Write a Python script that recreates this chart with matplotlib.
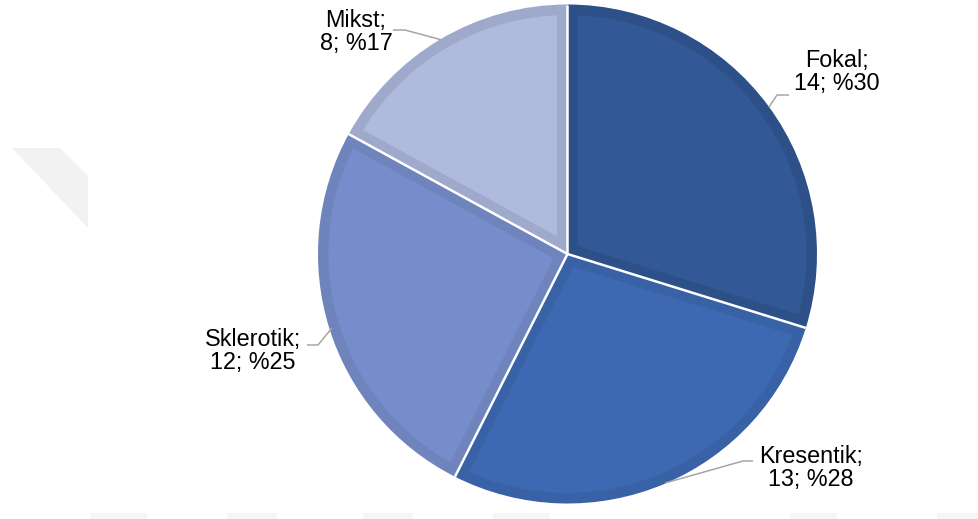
import numpy as np
import matplotlib.pyplot as plt
from matplotlib.patches import Polygon

# veriler
categories = ['Fokal', 'Kresentik', 'Sklerotik', 'Mikst']
counts = [14, 13, 12, 8]
percents = [30, 28, 25, 17]

fill_colors = ['#325896', '#3D69B3', '#778DCB', '#AFBADC']
edge_colors = ['#2D5089', '#3861A6', '#6F83BD', '#9EA9CB']

H = 519  # piksel koordinatlari icin
def py(y):
    return H - y


def inset_wedge(c, r, t1, t2, d, n=120):
    # dilimin icine d piksel kaydirilmis hali (ic dolgu)
    t1, t2 = np.radians(t1), np.radians(t2)
    half = (t2 - t1) / 2
    mid = t1 + half
    c = np.array(c)
    v = np.array([np.cos(mid), np.sin(mid)]) * d / np.sin(half)
    rr = r - d
    pts = [c + v]
    ends = []
    for t in (t1, t2):
        e = np.array([np.cos(t), np.sin(t)])
        b = v @ e
        s = -b + np.sqrt(b * b - v @ v + rr * rr)
        p = v + s * e
        ends.append(np.arctan2(p[1], p[0]))
    a1, a2 = ends
    if a2 < a1:
        a2 += 2 * np.pi
    for a in np.linspace(a1, a2, n):
        pts.append(c + rr * np.array([np.cos(a), np.sin(a)]))
    return np.array(pts)


fig = plt.figure(figsize=(9.79, 5.19), dpi=100)
ax = fig.add_axes([0, 0, 1, 1])

# arka plandaki soluk filigran
ax.add_patch(Polygon([(12, py(148)), (60, py(148)), (88, py(176)), (88, py(228))],
                     closed=True, color='#f2f2f2', lw=0, zorder=0))
for x0, x1 in [(90, 147), (227, 277), (363, 413), (493, 550), (790, 837), (937, 979)]:
    ax.add_patch(Polygon([(x0, 0), (x1, 0), (x1, 6), (x0, 6)], closed=True,
                         color='#f6f6f6', lw=0, zorder=0))

cx, cy, r = 567.5, py(254), 249.5
wedges, _ = ax.pie(counts, startangle=90, counterclock=False, colors=edge_colors,
                   center=(cx, cy), radius=r, wedgeprops=dict(linewidth=0))

for w, fc in zip(wedges, fill_colors):
    pts = inset_wedge((cx, cy), r, w.theta1, w.theta2, 10.5)
    ax.add_patch(Polygon(pts, closed=True, facecolor=fc, lw=0, zorder=2))

# dilimler arasi beyaz cizgiler
for w in wedges:
    t = np.radians(w.theta1)
    ax.plot([cx, cx + r * np.cos(t)], [cy, cy + r * np.sin(t)], color='white',
            lw=1.8, zorder=3, solid_capstyle='butt')

# etiketler ve baglanti cizgileri
label_pos = [(837, 72), (811, 468), (253, 351), (356, 32)]
leaders = [
    [(769, 107), (777, 95), (789, 95)],
    [(665, 483), (743, 461), (753, 461)],
    [(332, 328), (318, 345), (307, 345)],
    [(442, 40), (405, 30), (393, 30)],
]
for cat, n, p, (lx, ly), pts in zip(categories, counts, percents, label_pos, leaders):
    ax.text(lx, py(ly), f'{cat};\n{n}; %{p}', ha='center', va='center',
            fontsize=16.8, family='Liberation Sans', color='black', linespacing=1.05)
    ax.plot([q[0] for q in pts], [py(q[1]) for q in pts], color='#A6A6A6', lw=1.1,
            solid_capstyle='butt')

ax.set_xlim(0, 979)
ax.set_ylim(0, H)
ax.set_aspect('equal')
ax.axis('off')

fig.savefig('out.png', dpi=100)
